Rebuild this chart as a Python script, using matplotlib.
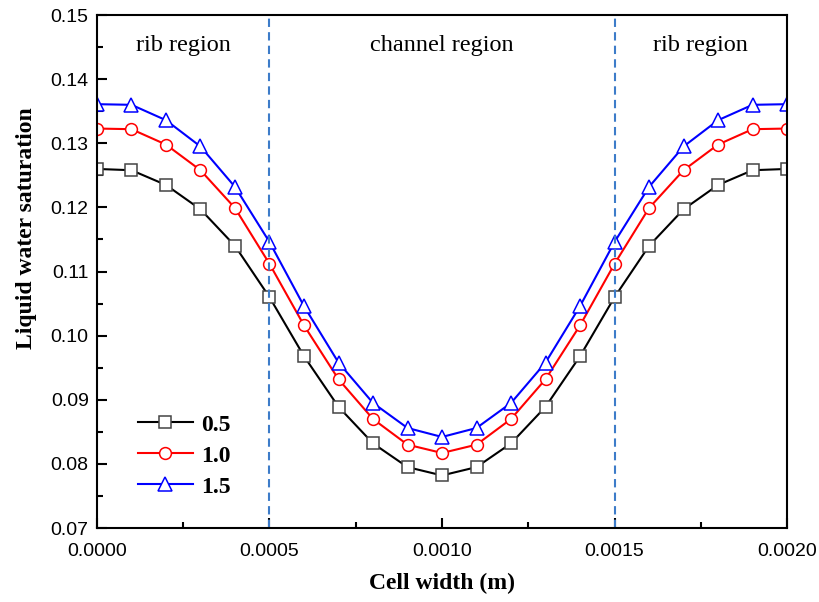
import matplotlib
matplotlib.use("Agg")
import matplotlib.pyplot as plt
import numpy as np
from matplotlib.ticker import MultipleLocator, FormatStrFormatter

x = [i * 0.0001 for i in range(21)]
s05 = [0.1260, 0.1258, 0.1235, 0.1197, 0.1140, 0.1060, 0.0968, 0.0889, 0.0832, 0.0795, 0.0782,
       0.0795, 0.0832, 0.0889, 0.0968, 0.1060, 0.1140, 0.1197, 0.1235, 0.1258, 0.1260]
s10 = [0.1323, 0.1322, 0.1298, 0.1258, 0.1199, 0.1112, 0.1016, 0.0932, 0.0870, 0.0830, 0.0817,
       0.0830, 0.0870, 0.0932, 0.1016, 0.1112, 0.1199, 0.1258, 0.1298, 0.1322, 0.1323]
s15 = [0.1361, 0.1360, 0.1336, 0.1295, 0.1232, 0.1146, 0.1046, 0.0958, 0.0895, 0.0856, 0.0842,
       0.0856, 0.0895, 0.0958, 0.1046, 0.1146, 0.1232, 0.1295, 0.1336, 0.1360, 0.1361]
labels = ["0.5", "1.0", "1.5"]
region_labels = ["rib region", "channel region", "rib region"]
region_x = [0.00025, 0.001, 0.00175]
boundaries = [0.0005, 0.0015]

fig = plt.figure(figsize=(8.19, 6.02), dpi=100)
ax = fig.add_axes([0.1184, 0.1229, 0.8426, 0.8521])

ax.plot(x, s05, color="black", lw=1.5, marker="s", ms=8, mfc="white", mec="#444444", mew=1.1, label=labels[0])
ax.plot(x, s10, color="red", lw=1.5, marker="o", ms=8.5, mfc="white", mec="red", mew=1.1, label=labels[1])
ax.plot(x, s15, color="blue", lw=1.5, marker="^", ms=9.5, mfc="white", mec="blue", mew=1.1, label=labels[2])

for b in boundaries:
    ax.axvline(b, color="#3d7cc9", lw=1.5, ls=(0, (4, 2.5)))

for t, xx in zip(region_labels, region_x):
    ax.text(xx, 0.1453, t, ha="center", va="center", fontsize=17.5, family="Liberation Serif")

ax.set_xlim(0, 0.002)
ax.set_ylim(0.07, 0.15)
ax.xaxis.set_major_locator(MultipleLocator(0.0005))
ax.xaxis.set_minor_locator(MultipleLocator(0.00025))
ax.yaxis.set_major_locator(MultipleLocator(0.01))
ax.yaxis.set_minor_locator(MultipleLocator(0.005))
ax.xaxis.set_major_formatter(FormatStrFormatter("%.4f"))
ax.yaxis.set_major_formatter(FormatStrFormatter("%.2f"))
ax.tick_params(which="both", direction="in", top=False, right=False, width=1.5)
ax.tick_params(which="major", length=7, labelsize=14)
ax.tick_params(axis="y", which="major", pad=6)
ax.tick_params(axis="x", which="major", pad=11)
ax.tick_params(which="minor", length=4)
for lbl in ax.get_xticklabels() + ax.get_yticklabels():
    lbl.set_family("Liberation Sans")
for sp in ax.spines.values():
    sp.set_linewidth(1.5)

ax.set_xlabel("Cell width (m)", fontsize=17, fontweight="bold", family="Liberation Serif", labelpad=9)
ax.set_ylabel("Liquid water saturation", fontsize=17, fontweight="bold", family="Liberation Serif")
ax.yaxis.set_label_coords(-0.087, 0.585)

leg = ax.legend(loc="upper left", bbox_to_anchor=(0.059, 0.222), frameon=False, borderpad=0,
                borderaxespad=0,
                prop={"family": "Liberation Serif", "weight": "bold", "size": 17},
                handlelength=2.35, handletextpad=0.35, labelspacing=0.4)

fig.savefig("out.png", dpi=100)
